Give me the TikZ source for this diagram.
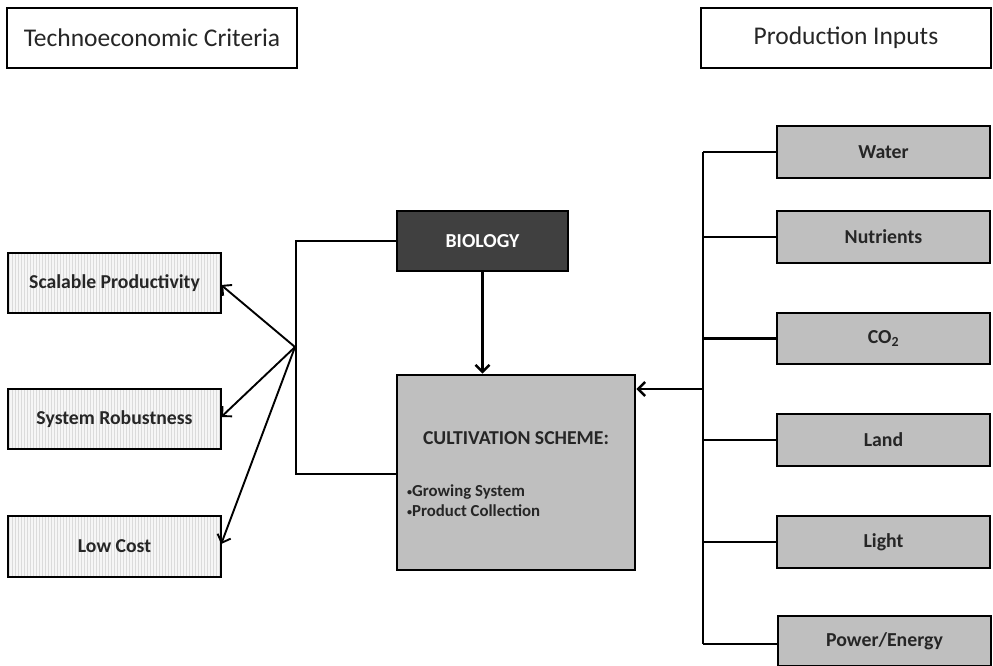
\documentclass[tikz,border=0pt]{standalone}
\usepackage{fontspec}
\usepackage{graphicx}
\setmainfont{Carlito}
\usetikzlibrary{arrows.meta,patterns}
\definecolor{txt}{HTML}{262626}
\definecolor{boxgray}{HTML}{BFBFBF}
\definecolor{biodark}{HTML}{404040}
\newcommand{\smallbul}{\raisebox{0.18ex}{\scalebox{0.6}{•}}}
\tikzset{
  headbox/.style={draw=black, line width=2.2pt, fill=white},
  headfont/.style={text=txt, font=\fontsize{25.5}{30}\selectfont},
  critfont/.style={text=txt, font=\bfseries\fontsize{19.7}{22}\selectfont},
  inbox/.style={draw=black, line width=2.6pt, fill=boxgray, text=txt, font=\bfseries\fontsize{19.8}{22}\selectfont},
  link/.style={draw=black, line width=2.5pt},
  thinarrow/.style={draw=black, line width=1.9pt, -{Straight Barb[length=7pt,width=14pt,line width=1.9pt]}},
  thickarrow/.style={draw=black, line width=2.5pt, -{Straight Barb[length=7pt,width=14pt,line width=2.5pt]}},
}
\begin{document}
\begin{tikzpicture}[x=1pt,y=-1pt]
\useasboundingbox (0,0) rectangle (993,666);
% header boxes
\draw[headbox] (7,8) rectangle (297,68);
\node[headfont] (tec) at (152,38) {Technoeconomic Criteria};
\draw[headbox] (701,8) rectangle (991,68);
\node[headfont] (pin) at (846,38) {Production Inputs};
% criteria boxes
\foreach \yt/\yb in {253/313,389/449,516/577}{
  \fill[gray!7] (8,\yt) rectangle (221,\yb);
  \fill[pattern=vertical lines, pattern color=gray!28] (8,\yt) rectangle (221,\yb);
  \draw[black, line width=2.6pt] (8,\yt) rectangle (221,\yb);
}
\node[inner sep=0, minimum width=213pt, minimum height=60pt, critfont] (sp) at (114.5,283) {Scalable Productivity};
\node[inner sep=0, minimum width=213pt, minimum height=60pt, critfont] (sr) at (114.5,419) {System Robustness};
\node[inner sep=0, minimum width=213pt, minimum height=61pt, critfont] (lc) at (114.5,546.5) {Low Cost};
% biology
\node[draw=black, line width=2.6pt, fill=biodark, text=white, font=\bfseries\fontsize{19.8}{22}\selectfont, minimum width=171pt, minimum height=60pt, inner sep=0] (bio) at (482.5,241) {BIOLOGY};
% cultivation
\node[draw=black, line width=2.6pt, fill=boxgray, minimum width=238pt, minimum height=195pt, inner sep=0] (cult) at (516,472.5) {};
\node[text=txt, font=\bfseries\fontsize{19.7}{22}\selectfont] (ctitle) at (516,438) {CULTIVATION SCHEME:};
\node[text=txt, font=\bfseries\fontsize{16.8}{20}\selectfont, anchor=west, align=left, inner sep=0] (clist) at (407,501) {\smallbul Growing System\\\smallbul Product Collection};
% input boxes
\node[inbox, minimum width=213pt, minimum height=52pt, inner sep=0] (water) at (883.5,152) {Water};
\node[inbox, minimum width=213pt, minimum height=52pt, inner sep=0] (nutr) at (883.5,237) {Nutrients};
\node[inbox, minimum width=213pt, minimum height=51pt, inner sep=0] (co2) at (883.5,338.5) {CO\textsubscript{2}};
\node[inbox, minimum width=213pt, minimum height=52pt, inner sep=0] (land) at (883.5,440) {Land};
\node[inbox, minimum width=213pt, minimum height=52pt, inner sep=0] (light) at (883.5,542) {Light};
\node[inbox, minimum width=213pt, minimum height=50pt, inner sep=0] (power) at (884.5,641) {Power/Energy};
% right tree
\coordinate (rtop) at (703,152);
\coordinate (rbot) at (703,644);
\coordinate (rmid) at (703,389);
\draw[link] (rtop) -- (rbot);
\draw[link] (rtop) -- (water.west);
\draw[link] (703,237) -- (nutr.west);
\draw[link] (703,338.5) -- (co2.west);
\draw[link] (703,440) -- (land.west);
\draw[link] (703,542) -- (light.west);
\draw[link] (rbot) -- (power.west |- rbot);
\draw[thickarrow] (rmid) -- (cult.east |- rmid);
% biology to cultivation
\draw[thickarrow] (bio.south) -- (bio.south |- cult.north);
% left bracket
\coordinate (lb1) at (296,241);
\coordinate (lb2) at (296,474);
\draw[link] (bio.west) -- (lb1) -- (lb2) -- (cult.west |- lb2);
% arrows to criteria
\coordinate (br) at (295,347);
\draw[thinarrow] (br) -- (sp.east |- 0,285);
\draw[thinarrow] (br) -- (sr.east |- 0,417);
\draw[thinarrow] (br) -- (lc.east |- 0,544);
\end{tikzpicture}
\end{document}
